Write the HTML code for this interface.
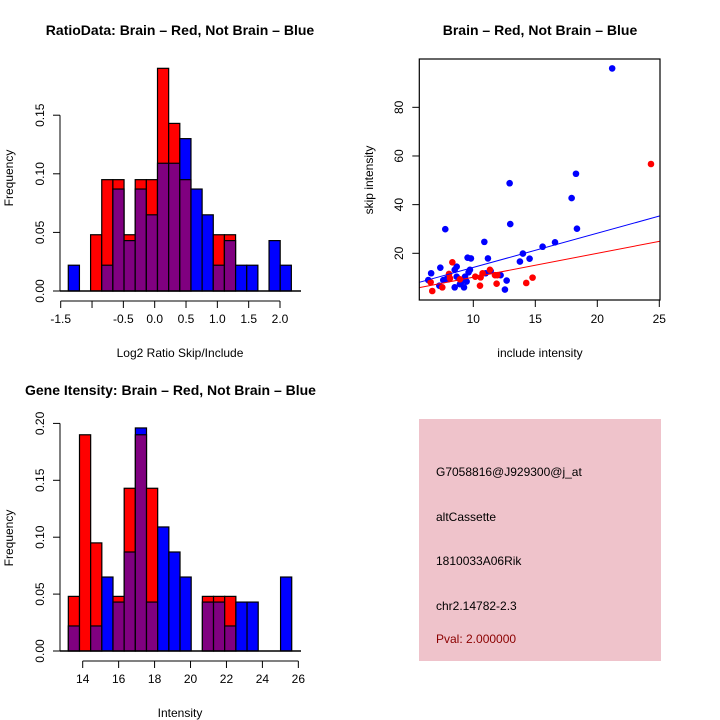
<!DOCTYPE html>
<html><head><meta charset="utf-8"><style>
html,body{margin:0;padding:0;background:#fff;}
svg{display:block;font-family:"Liberation Sans",sans-serif;}
</style></head><body>
<svg id="s" width="720" height="720" viewBox="0 0 720 720" xmlns="http://www.w3.org/2000/svg">
<rect width="720" height="720" fill="#fff"/>
<text x="180" y="35" font-size="14" font-weight="bold" text-anchor="middle">RatioData: Brain – Red, Not Brain – Blue</text>
<text x="540" y="35" font-size="14" font-weight="bold" text-anchor="middle">Brain – Red, Not Brain – Blue</text>
<text x="25" y="395" font-size="14" font-weight="bold">Gene Itensity: Brain – Red, Not Brain – Blue</text>
<text x="180" y="357" font-size="12" text-anchor="middle">Log2 Ratio Skip/Include</text>
<text x="13" y="178" font-size="12" text-anchor="middle" transform="rotate(-90 13 178)">Frequency</text>
<text x="540" y="357" font-size="12" text-anchor="middle">include intensity</text>
<text x="373" y="180" font-size="12" text-anchor="middle" transform="rotate(-90 373 180)">skip intensity</text>
<text x="180" y="717" font-size="12" text-anchor="middle">Intensity</text>
<text x="13" y="538" font-size="12" text-anchor="middle" transform="rotate(-90 13 538)">Frequency</text>
<g>
<rect x="419" y="419" width="242" height="242" fill="#efc3cb"/>
<text x="436" y="476" font-size="12">G7058816@J929300@j_at</text>
<text x="436" y="521" font-size="12">altCassette</text>
<text x="436" y="565" font-size="12">1810033A06Rik</text>
<text x="436" y="610" font-size="12">chr2.14782-2.3</text>
<text x="436" y="643" font-size="12" fill="#8b0000">Pval: 2.000000</text>
</g>
</svg>
<script>
// Ratio histogram data
const ratioBinStart = -1.379;
const ratioBinWidth = 0.178;
const ratioBlue = [0.022,0,0,0.022,0.087,0.043,0.087,0.065,0.109,0.109,0.13,0.087,0.065,0.022,0.043,0.022,0.022,0,0.043,0.022];
const ratioRed  = [0,0,0.048,0.095,0.095,0.048,0.095,0.095,0.19,0.143,0.095,0,0,0.048,0.048,0,0,0,0,0];
const ratioXTicks = [-1.5,-1,-0.5,0,0.5,1,1.5,2];
const ratioXLabels = ["-1.5","","-0.5","0.0","0.5","1.0","1.5","2.0"];
const ratioYTicks = [0,0.05,0.1,0.15];
const ratioYLabels = ["0.00","0.05","0.10","0.15"];
// Intensity histogram data
const intBinStart = 13.2;
const intBinWidth = 0.6216;
const intBlue = [0.022,0,0.022,0.065,0.043,0.087,0.196,0.043,0.109,0.087,0.065,0,0.043,0.043,0.022,0.043,0.043,0,0,0.065];
const intRed  = [0.048,0.19,0.095,0,0.048,0.143,0.19,0.143,0,0,0,0,0.048,0.048,0.048,0,0,0,0,0];
const intXTicks = [14,16,18,20,22,24,26];
const intYTicks = [0,0.05,0.1,0.15,0.2];
const intYLabels = ["0.00","0.05","0.10","0.15","0.20"];
// Scatter data
const blueX = [21.2,12.93,12.98,17.93,18.28,18.36,7.74,10.89,16.59,15.59,14.0,11.18,14.54,13.76,9.54,9.81,7.34,8.66,8.5,9.73,9.62,6.6,6.37,7.58,7.85,7.26,8.66,10.99,11.4,12.2,12.69,12.55,8.5,9.25,8.92,9.46,9.06,9.33,7.98];
const blueY = [96,48.8,32,42.7,52.7,30.1,29.9,24.7,24.5,22.7,19.9,17.9,17.8,16.6,18.2,17.9,14.1,14.5,13.2,13.2,12.2,11.8,9.0,9.0,9.5,6.7,10.4,11.8,12.7,11.0,8.8,5.1,6.0,6.0,7.3,8.4,8.4,10.4,9.3];
const redX = [24.33,8.31,8.04,8.12,7.5,6.69,6.56,10.16,10.59,10.54,11.34,11.75,11.94,11.88,14.27,14.78,8.92,10.75];
const redY = [56.7,16.3,11.5,9.7,6.0,4.5,8.1,10.4,10.1,6.7,13.2,11.0,11.0,7.5,7.8,10.0,9.3,11.8];
const blueFit = [0.14,1.406];
const redFit = [0.36,0.982];
const scXTicks = [10,15,20,25];
const scYTicks = [20,40,60,80];

const NS="http://www.w3.org/2000/svg";
const svg=document.getElementById('s');
function mk(tag,attrs,parent){const e=document.createElementNS(NS,tag);for(const k in attrs)e.setAttribute(k,attrs[k]);(parent||svg).appendChild(e);return e;}

function hist(o){
  const g=mk('g',{});
  
  
  const sx=v=>o.x0+(v-o.xv0)*o.xs, sy=v=>o.y0-v*o.ys;
  o.blue.forEach((b,i)=>{
    const r=o.red[i]; const l=sx(o.bs+i*o.bw), rr=sx(o.bs+(i+1)*o.bw);
    const mx=Math.max(b,r), mn=Math.min(b,r);
    if(mx<=0)return;
    const top=mk('rect',{x:l,y:sy(mx),width:rr-l,height:sy(0)-sy(mx),fill:b>=r?'#0000ff':'#ff0000',stroke:'#000','stroke-width':1.2},g);
    
    
    if(mn>0){
      const p=mk('rect',{x:l,y:sy(mn),width:rr-l,height:sy(0)-sy(mn),fill:'#800080',stroke:'#000','stroke-width':1.2},g);
      
      
    }
  });
  mk('line',{x1:60,x2:301,y1:sy(0),y2:sy(0),stroke:'#000','stroke-width':1.5},g);
  // y axis
  const ya=mk('g',{},g);
  
  
  mk('line',{x1:60,x2:60,y1:sy(o.yt[0]),y2:sy(o.yt[o.yt.length-1]),stroke:'#000','stroke-width':1},ya);
  o.yt.forEach((t,i)=>{const y=sy(t);mk('line',{x1:53,x2:60,y1:y,y2:y,stroke:'#000'},ya);
    const tx=mk('text',{x:44,y:y,'font-size':12,'text-anchor':'middle',transform:`rotate(-90 44 ${y})`},ya);tx.textContent=o.yl[i];});
  const xa=mk('g',{},g);
  
  
  const ay=o.y0+10;
  mk('line',{x1:sx(o.xt[0]),x2:sx(o.xt[o.xt.length-1]),y1:ay,y2:ay,stroke:'#000'},xa);
  o.xt.forEach((t,i)=>{const x=sx(t);mk('line',{x1:x,x2:x,y1:ay,y2:ay+7,stroke:'#000'},xa);
    const tx=mk('text',{x:x,y:ay+22,'font-size':12,'text-anchor':'middle'},xa);tx.textContent=o.xl[i];});
}
hist({name:'ratio-histogram',blue:ratioBlue,red:ratioRed,bs:ratioBinStart,bw:ratioBinWidth,x0:60.7,xv0:-1.5,xs:62.66,y0:291,ys:1172,xt:ratioXTicks,xl:ratioXLabels,yt:ratioYTicks,yl:ratioYLabels});
hist({name:'intensity-histogram',blue:intBlue,red:intRed,bs:intBinStart,bw:intBinWidth,x0:82.7,xv0:14,xs:17.97,y0:651,ys:1138,xt:intXTicks,xl:intXTicks.map(String),yt:intYTicks,yl:intYLabels});

// scatter
const sg=mk('g',{});


const L=419.3,R=660,T=59,B=300;
const px=v=>473.3+(v-10)*12.4, py=v=>253.3-(v-20)*2.433;
mk('clipPath',{id:'cp'},sg).appendChild(Object.assign(document.createElementNS(NS,'rect'),{}));
const cr=document.querySelector('#cp rect');cr.setAttribute('x',L);cr.setAttribute('y',T);cr.setAttribute('width',R-L);cr.setAttribute('height',B-T);
blueX.forEach((x,i)=>{const c=mk('circle',{cx:px(x),cy:py(blueY[i]),r:3.3,fill:'#0000ff'},sg);
  
  });
redX.forEach((x,i)=>{const c=mk('circle',{cx:px(x),cy:py(redY[i]),r:3.3,fill:'#ff0000'},sg);
  
  });
[[blueFit,'#0000ff','fit-line-blue'],[redFit,'#ff0000','fit-line-red']].forEach(([f,col,nm])=>{
  const xa=(L-473.3)/12.4+10, xb=(R-473.3)/12.4+10;
  const ln=mk('line',{x1:L,y1:py(f[0]+f[1]*xa),x2:R,y2:py(f[0]+f[1]*xb),stroke:col,'stroke-width':1,'clip-path':'url(#cp)'},sg);
  
  
});
mk('rect',{x:L,y:T,width:R-L,height:B-T,fill:'none',stroke:'#000','stroke-width':1.2},sg);
scXTicks.forEach(t=>{const x=px(t);mk('line',{x1:x,x2:x,y1:B,y2:B+7,stroke:'#000'},sg);
  const tx=mk('text',{x:x,y:B+23,'font-size':12,'text-anchor':'middle'},sg);tx.textContent=t;});
scYTicks.forEach(t=>{const y=py(t);mk('line',{x1:L-7,x2:L,y1:y,y2:y,stroke:'#000'},sg);
  const tx=mk('text',{x:403,y:y,'font-size':12,'text-anchor':'middle',transform:`rotate(-90 403 ${y})`},sg);tx.textContent=t;});
</script>
</body></html>
